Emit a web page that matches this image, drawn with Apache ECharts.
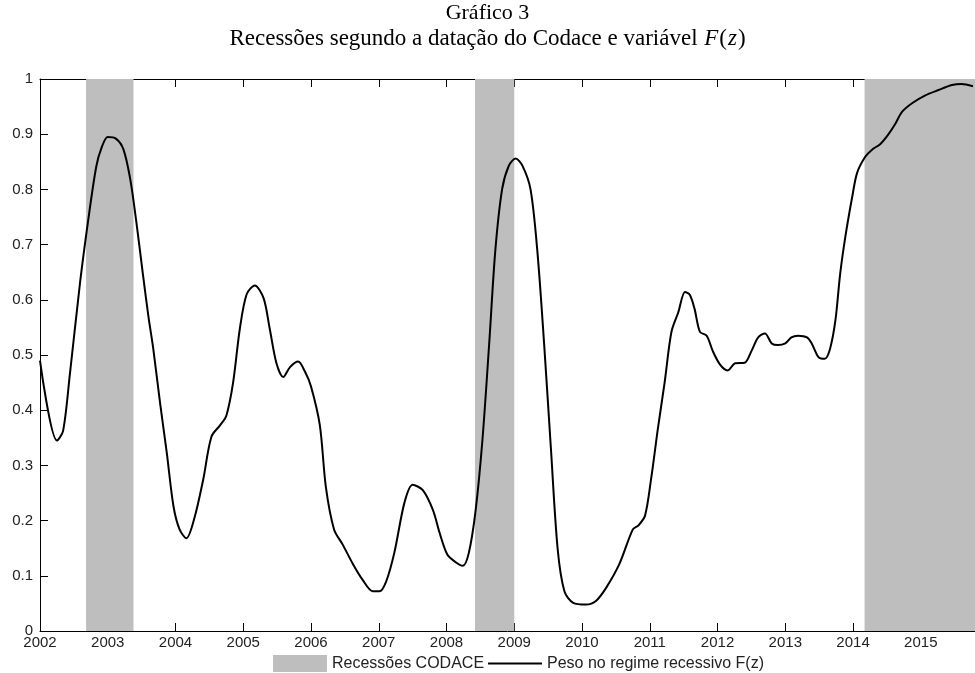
<!DOCTYPE html>
<html>
<head>
<meta charset="utf-8">
<script src="https://cdn.jsdelivr.net/npm/echarts@6/dist/echarts.min.js"></script>
<style>
  html, body { margin: 0; padding: 0; background: #fff; }
  #main { width: 975px; height: 673px; }
</style>
</head>
<body>
<div id="main"></div>
<script>
// datas (ano decimal) e peso no regime recessivo F(z)
const datas = [
    2002.00, 2002.25, 2002.34, 2002.44, 2002.59, 2002.71, 2002.83, 2002.91,
    2003.00, 2003.12, 2003.23, 2003.33, 2003.42, 2003.52, 2003.60, 2003.67,
    2003.77, 2003.87, 2003.97, 2004.06, 2004.16, 2004.28, 2004.41, 2004.53,
    2004.66, 2004.75, 2004.85, 2004.95, 2005.05, 2005.17, 2005.30, 2005.39,
    2005.49, 2005.59, 2005.69, 2005.81, 2005.91, 2006.00, 2006.13, 2006.22,
    2006.34, 2006.47, 2006.62, 2006.76, 2006.91, 2007.01, 2007.11, 2007.23,
    2007.38, 2007.50, 2007.65, 2007.80, 2007.90, 2008.01, 2008.13, 2008.24,
    2008.33, 2008.43, 2008.53, 2008.63, 2008.72, 2008.82, 2008.92, 2009.02,
    2009.12, 2009.24, 2009.34, 2009.44, 2009.54, 2009.64, 2009.74, 2009.87,
    2010.06, 2010.21, 2010.36, 2010.55, 2010.75, 2010.83, 2010.93, 2011.02,
    2011.12, 2011.22, 2011.32, 2011.42, 2011.52, 2011.59, 2011.66, 2011.74,
    2011.84, 2011.93, 2012.04, 2012.15, 2012.26, 2012.40, 2012.50, 2012.60,
    2012.70, 2012.80, 2012.89, 2013.00, 2013.09, 2013.19, 2013.32, 2013.39,
    2013.49, 2013.58, 2013.66, 2013.74, 2013.81, 2013.89, 2013.99, 2014.06,
    2014.18, 2014.28, 2014.40, 2014.50, 2014.62, 2014.72, 2014.87, 2015.06,
    2015.26, 2015.46, 2015.60, 2015.77
];
const peso = [
    0.490, 0.345, 0.362, 0.464, 0.630, 0.743, 0.841, 0.876,
    0.895, 0.892, 0.873, 0.820, 0.743, 0.645, 0.570, 0.513,
    0.415, 0.324, 0.226, 0.184, 0.168, 0.205, 0.275, 0.352,
    0.373, 0.390, 0.450, 0.548, 0.610, 0.626, 0.603, 0.548,
    0.485, 0.460, 0.478, 0.488, 0.470, 0.443, 0.373, 0.260,
    0.184, 0.156, 0.121, 0.093, 0.072, 0.072, 0.090, 0.142,
    0.233, 0.265, 0.255, 0.219, 0.177, 0.139, 0.125, 0.118,
    0.142, 0.219, 0.346, 0.521, 0.689, 0.800, 0.843, 0.856,
    0.843, 0.800, 0.689, 0.521, 0.332, 0.149, 0.072, 0.051,
    0.048, 0.055, 0.079, 0.121, 0.184, 0.191, 0.209, 0.276,
    0.367, 0.451, 0.542, 0.577, 0.614, 0.609, 0.584, 0.542,
    0.535, 0.507, 0.482, 0.472, 0.485, 0.486, 0.507, 0.532,
    0.539, 0.521, 0.518, 0.521, 0.532, 0.535, 0.532, 0.521,
    0.496, 0.493, 0.511, 0.563, 0.647, 0.717, 0.788, 0.830,
    0.859, 0.872, 0.882, 0.896, 0.918, 0.940, 0.956, 0.970,
    0.980, 0.989, 0.991, 0.987
];
// períodos de recessão (início, fim) segundo o CODACE
const recessoes = [
    [2002.68, 2003.38],
    [2008.42, 2009.00],
    [2014.17, 2015.80]
];
const anoMin = 2002;
const anoMax = 2015.8;

const chartDom = document.getElementById('main');
const myChart = echarts.init(chartDom);

const eixoFonte = { fontFamily: 'Liberation Sans', fontSize: 15, color: '#222' };

const option = {
    animation: false,
    title: [
        {
            text: 'Gráfico 3',
            left: 'center',
            top: 2,
            padding: 0,
            textStyle: { fontFamily: 'Liberation Serif', fontSize: 22, fontWeight: 'normal', color: '#000' }
        },
        {
            text: '{n|Recessões segundo a datação do Codace e variável }{i|F}{n|(}{i|z}{n|)}',
            left: 'center',
            top: 27,
            padding: 0,
            textStyle: {
                fontWeight: 'normal',
                rich: {
                    n: { fontFamily: 'Liberation Serif', fontSize: 23, fontWeight: 'normal', color: '#000' },
                    i: { fontFamily: 'Liberation Serif', fontSize: 23, fontWeight: 'normal', fontStyle: 'italic', color: '#000', padding: [0, 1, 0, 1] }
                }
            }
        }
    ],
    legend: {
        left: 273,
        top: 655,
        padding: 0,
        itemWidth: 54,
        itemHeight: 17,
        itemGap: 3,
        textStyle: { fontFamily: 'Liberation Sans', fontSize: 16, color: '#222' },
        data: [
            { name: 'Recessões CODACE', icon: 'rect' },
            { name: 'Peso no regime recessivo F(z)', itemStyle: { opacity: 0 } }
        ]
    },
    grid: { left: 40, right: 0, top: 79, bottom: 42 },
    xAxis: [
        {
            type: 'value',
            min: anoMin,
            max: anoMax,
            interval: 1,
            axisLine: { lineStyle: { color: '#000', width: 1 } },
            axisTick: { inside: true, length: 8, lineStyle: { color: '#000' } },
            axisLabel: Object.assign({
                margin: 4,
                showMaxLabel: false,
                formatter: function (v) { return String(v); }
            }, eixoFonte),
            splitLine: { show: false }
        },
        {
            type: 'value',
            position: 'top',
            min: anoMin,
            max: anoMax,
            interval: 1,
            axisLine: { lineStyle: { color: '#000', width: 1 } },
            axisTick: { inside: true, length: 8, lineStyle: { color: '#000' } },
            axisLabel: { show: false },
            splitLine: { show: false }
        }
    ],
    yAxis: {
        type: 'value',
        min: 0,
        max: 1,
        interval: 0.1,
        axisLine: { show: true, lineStyle: { color: '#000', width: 1 } },
        axisTick: { show: true, inside: true, length: 8, lineStyle: { color: '#000' } },
        axisLabel: Object.assign({ margin: 7 }, eixoFonte),
        splitLine: { show: false }
    },
    series: [
        {
            name: 'Recessões CODACE',
            type: 'line',
            data: [],
            itemStyle: { color: '#bebebe' },
            markArea: {
                silent: true,
                itemStyle: { color: '#bebebe', opacity: 1 },
                data: recessoes.map(function (r) {
                    return [{ xAxis: r[0] }, { xAxis: r[1] }];
                })
            }
        },
        {
            name: 'Peso no regime recessivo F(z)',
            type: 'line',
            data: datas.map(function (d, i) { return [d, peso[i]]; }),
            smooth: 0.3,
            symbol: 'none',
            lineStyle: { color: '#000', width: 2 },
            itemStyle: { color: '#000' },
            z: 3
        }
    ]
};

myChart.setOption(option);
</script>
</body>
</html>
